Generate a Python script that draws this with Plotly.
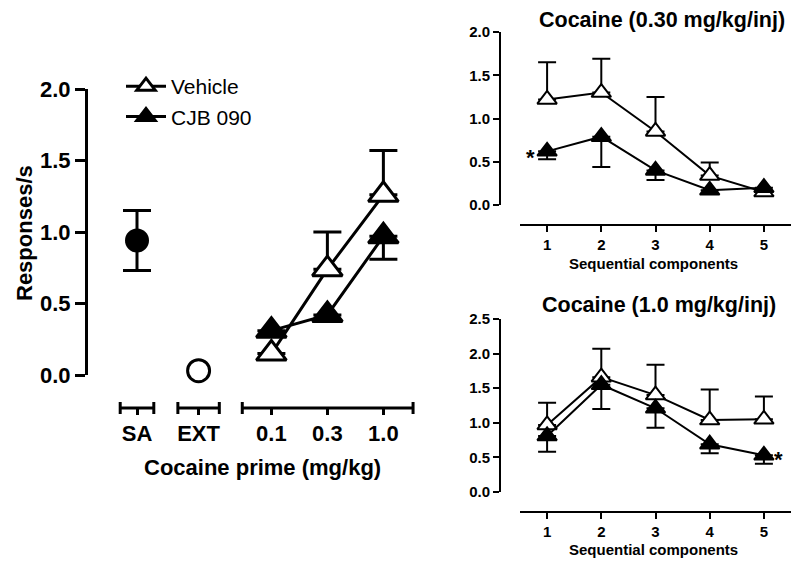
import plotly.graph_objects as go

W, H = 800, 566
OFF = 8  # page body margin in the browser


def px(x):
    return (x - OFF) / W


def py(y):
    return 1 - (y - OFF) / H


FONT = "Liberation Sans, Arial, sans-serif"
BLACK = "black"

# ---------------- data ----------------
left_cats = ["SA", "EXT", "0.1", "0.3", "1.0"]
left_slots = [0, 1.1, 2.4, 3.4, 4.4]

sa_mean = [0.94]
sa_err = [0.21]
ext_mean = [0.03]

veh_prime = [0.15, 0.74, 1.26]
veh_prime_err = [0.0, 0.26, 0.31]
cjb_prime = [0.31, 0.42, 0.97]
cjb_prime_err = [0.0, 0.0, 0.16]

components = [1, 2, 3, 4, 5]
veh_030 = [1.22, 1.30, 0.85, 0.34, 0.15]
veh_030_err = [0.43, 0.39, 0.40, 0.15, 0.0]
cjb_030 = [0.62, 0.79, 0.40, 0.17, 0.20]
cjb_030_err = [0.09, 0.35, 0.11, 0.0, 0.0]

veh_10 = [0.97, 1.66, 1.40, 1.04, 1.05]
veh_10_err = [0.32, 0.41, 0.44, 0.44, 0.33]
cjb_10 = [0.81, 1.55, 1.21, 0.69, 0.53]
cjb_10_err = [0.23, 0.35, 0.28, 0.13, 0.12]

left_yticks = [0, 0.5, 1.0, 1.5, 2.0]
top_yticks = [0, 0.5, 1.0, 1.5, 2.0]
bot_yticks = [0, 0.5, 1.0, 1.5, 2.0, 2.5]

fig = go.Figure()


def err(vals, up=True):
    zeros = [0] * len(vals)
    return dict(type="data", symmetric=False,
                array=vals if up else zeros,
                arrayminus=zeros if up else vals)


# ---------------- left panel ----------------
fig.add_trace(go.Scatter(
    x=[left_slots[0]], y=sa_mean, mode="markers", showlegend=False,
    marker=dict(symbol="circle", size=24, color=BLACK),
    error_y=dict(type="data", array=sa_err, color=BLACK, thickness=3, width=14),
    cliponaxis=False, xaxis="x", yaxis="y"))
fig.add_trace(go.Scatter(
    x=[left_slots[1]], y=ext_mean, mode="markers", showlegend=False,
    marker=dict(symbol="circle", size=22, color="white", line=dict(color=BLACK, width=3)),
    cliponaxis=False, xaxis="x", yaxis="y"))
fig.add_trace(go.Scatter(
    x=left_slots[2:], y=veh_prime, mode="lines+markers", name="Vehicle",
    line=dict(color=BLACK, width=3),
    marker=dict(symbol="triangle-up", size=26, color="white", line=dict(color=BLACK, width=3)),
    error_y=dict(**err(veh_prime_err, True), color=BLACK, thickness=3, width=14),
    cliponaxis=False, xaxis="x", yaxis="y"))
fig.add_trace(go.Scatter(
    x=left_slots[2:], y=cjb_prime, mode="lines+markers", name="CJB 090",
    line=dict(color=BLACK, width=3),
    marker=dict(symbol="triangle-up", size=26, color=BLACK, line=dict(color=BLACK, width=3)),
    error_y=dict(**err(cjb_prime_err, False), color=BLACK, thickness=3, width=14),
    cliponaxis=False, xaxis="x", yaxis="y"))

# ---------------- right panels ----------------
for (veh, veh_e, cjb, cjb_e, xa, ya) in [
        (veh_030, veh_030_err, cjb_030, cjb_030_err, "x2", "y2"),
        (veh_10, veh_10_err, cjb_10, cjb_10_err, "x3", "y3")]:
    fig.add_trace(go.Scatter(
        x=components, y=veh, mode="lines+markers", showlegend=False,
        line=dict(color=BLACK, width=2),
        marker=dict(symbol="triangle-up", size=17, color="white", line=dict(color=BLACK, width=2)),
        error_y=dict(**err(veh_e, True), color=BLACK, thickness=2, width=9),
        cliponaxis=False, xaxis=xa, yaxis=ya))
    fig.add_trace(go.Scatter(
        x=components, y=cjb, mode="lines+markers", showlegend=False,
        line=dict(color=BLACK, width=2),
        marker=dict(symbol="triangle-up", size=17, color=BLACK, line=dict(color=BLACK, width=2)),
        error_y=dict(**err(cjb_e, False), color=BLACK, thickness=2, width=9),
        cliponaxis=False, xaxis=xa, yaxis=ya))

big_bold = dict(family=FONT, size=22, color=BLACK, weight="bold")
title_bold = dict(family=FONT, size=21.5, color=BLACK, weight="bold")
small_bold = dict(family=FONT, size=15, color=BLACK, weight="bold")

x_lo = -0.875
x_hi = 5.054

# segmented x axis for left panel
seg_y = py(408)
segments = [
    (left_slots[0] - 0.30, left_slots[0] + 0.30),
    (left_slots[1] - 0.37, left_slots[1] + 0.37),
    (left_slots[2] - 0.52, left_slots[4] + 0.53),
]
shapes = []
for a, b in segments:
    shapes.append(dict(type="line", xref="x", yref="paper", x0=a, x1=b, y0=seg_y, y1=seg_y,
                       line=dict(color=BLACK, width=3)))
    for e in (a, b):
        shapes.append(dict(type="line", xref="x", yref="paper", x0=e, x1=e,
                           y0=py(402), y1=py(414), line=dict(color=BLACK, width=3)))

annotations = [
    dict(text="Responses/s", x=px(25), y=py(233), xref="paper", yref="paper",
         textangle=-90, showarrow=False, font=big_bold, xanchor="center", yanchor="middle"),
    dict(text="Cocaine prime (mg/kg)", x=px(263), y=py(467), xref="paper", yref="paper",
         showarrow=False, font=big_bold, xanchor="center", yanchor="middle"),
    dict(text="Cocaine (0.30 mg/kg/inj)", x=px(662), y=py(20), xref="paper", yref="paper",
         showarrow=False, font=title_bold, xanchor="center", yanchor="middle"),
    dict(text="Cocaine (1.0 mg/kg/inj)", x=px(659), y=py(305), xref="paper", yref="paper",
         showarrow=False, font=title_bold, xanchor="center", yanchor="middle"),
    dict(text="Sequential components", x=px(653), y=py(263), xref="paper", yref="paper",
         showarrow=False, font=small_bold, xanchor="center", yanchor="middle"),
    dict(text="Sequential components", x=px(653), y=py(549), xref="paper", yref="paper",
         showarrow=False, font=small_bold, xanchor="center", yanchor="middle"),
    dict(text="*", x=components[0], y=cjb_030[0], xref="x2", yref="y2", xshift=-17, yshift=-6,
         showarrow=False, font=dict(family=FONT, size=22, color=BLACK, weight="bold")),
    dict(text="*", x=components[4], y=cjb_10[4], xref="x3", yref="y3", xshift=15, yshift=-4,
         showarrow=False, font=dict(family=FONT, size=22, color=BLACK, weight="bold")),
]

common_axis = dict(showgrid=False, zeroline=False, color=BLACK, ticks="outside",
                   tickcolor=BLACK, automargin=False)

fig.update_layout(
    template="none",
    width=W, height=H,
    margin=dict(l=0, r=0, t=0, b=0, pad=0),
    paper_bgcolor="white", plot_bgcolor="white",
    font=dict(family=FONT, color=BLACK),
    showlegend=True,
    legend=dict(x=px(121), y=py(66), xanchor="left", yanchor="top",
                font=dict(family=FONT, size=21, color=BLACK), itemwidth=40,
                bgcolor="rgba(0,0,0,0)", borderwidth=0, tracegroupgap=0),
    xaxis=dict(**common_axis, domain=[px(88), px(420)], range=[x_lo, x_hi],
               anchor="free", position=seg_y, showline=False,
               ticklen=6, tickwidth=3, tickvals=left_slots, ticktext=left_cats,
               tickfont=big_bold),
    yaxis=dict(**common_axis, domain=[py(375), py(89)], range=[0, 2], anchor="x",
               showline=True, linewidth=3, linecolor=BLACK,
               ticklen=10, tickwidth=3, tickvals=left_yticks, tickformat=".1f",
               tickfont=big_bold),
    xaxis2=dict(**common_axis, domain=[px(520), px(791)], range=[0.5, 5.5],
                anchor="free", position=py(225), showline=True, linewidth=2, linecolor=BLACK,
                ticklen=6, tickwidth=2, tickvals=components, tickfont=small_bold),
    yaxis2=dict(**common_axis, domain=[py(205), py(32)], range=[0, 2],
                anchor="free", position=px(500), showline=True, linewidth=2, linecolor=BLACK,
                ticklen=6, tickwidth=2, tickvals=top_yticks, tickformat=".1f",
                tickfont=small_bold),
    xaxis3=dict(**common_axis, domain=[px(520), px(791)], range=[0.5, 5.5],
                anchor="free", position=py(512), showline=True, linewidth=2, linecolor=BLACK,
                ticklen=6, tickwidth=2, tickvals=components, tickfont=small_bold),
    yaxis3=dict(**common_axis, domain=[py(492), py(319)], range=[0, 2.5],
                anchor="free", position=px(500), showline=True, linewidth=2, linecolor=BLACK,
                ticklen=6, tickwidth=2, tickvals=bot_yticks, tickformat=".1f",
                tickfont=small_bold),
    shapes=shapes,
    annotations=annotations,
)

fig.write_html("out.html")
